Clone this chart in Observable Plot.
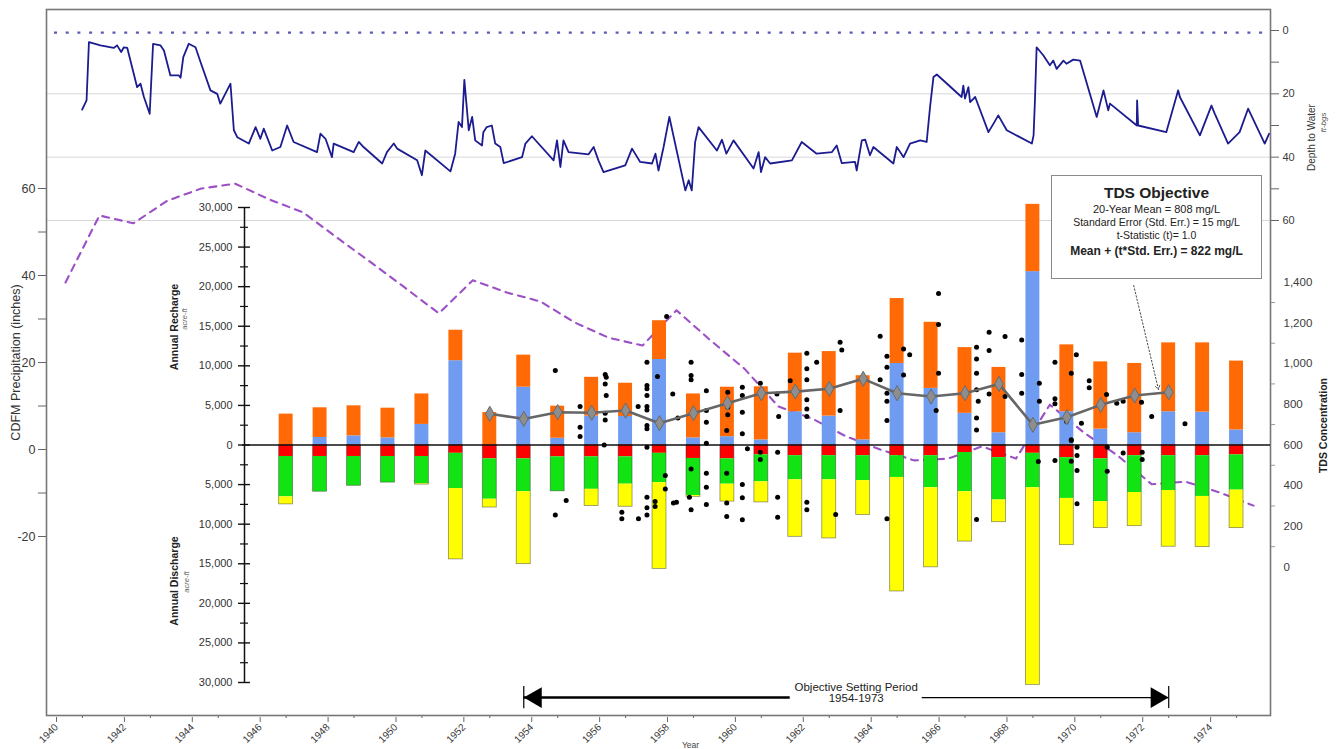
<!DOCTYPE html>
<html><head><meta charset="utf-8">
<script src="https://cdn.jsdelivr.net/npm/d3@7"></script>
<script src="https://cdn.jsdelivr.net/npm/@observablehq/plot@0.6"></script>
<style>
body{margin:0;background:#fff;font-family:"Liberation Sans",Arial,sans-serif;}
#chart{position:relative;width:1338px;height:749px;}
#chart svg{position:absolute;left:0;top:0;background:transparent;overflow:visible;}
#tdsbox{position:absolute;left:1051px;top:175px;width:211px;height:104px;border:1px solid #8a8a8a;background:#fff;text-align:center;color:#222;box-sizing:border-box;padding-top:8px;font-family:"Liberation Sans",Arial,sans-serif;}
#tdsbox div{white-space:nowrap;}
</style></head><body><div id="chart"></div>
<script>
// ---------- DATA ----------
const years = [1947,1948,1949,1950,1951,1952,1953,1954,1955,1956,1957,1958,1959,1960,1961,1962,1963,1964,1965,1966,1967,1968,1969,1970,1971,1972,1973,1974,1975];
// Annual recharge components (acre-ft)
const rechargeBlue   = [0,950,1150,900,2600,10650,0,7300,850,3650,3600,10800,900,1050,650,4200,3650,650,10300,7150,4000,1550,21900,4200,2000,1550,4200,4150,1900];
const rechargeOrange = [3900,3750,3800,3750,3850,3850,4100,4050,4050,4900,4200,4900,5550,6250,6700,7400,8150,8100,8200,8350,8300,8250,8500,8450,8500,8750,8700,8750,8700];
// Annual discharge components (acre-ft)
const dischargeRed    = [1450,1450,1450,1450,1450,1050,1750,1750,1500,1500,1500,1050,1700,1750,1250,1350,1350,1350,1350,1350,950,1600,1050,1600,1750,1350,1350,1350,1250];
const dischargeGreen  = [5100,4450,3700,3300,3450,4450,5100,4150,4350,4100,3450,3700,4700,3200,3400,3050,3050,3150,2750,4050,4950,5350,4350,5150,5400,4650,4400,5150,4450];
const dischargeYellow = [950,0,0,0,100,8950,1050,9150,0,2100,2850,10900,150,2200,2600,7200,7400,4350,14400,10050,6300,2800,24900,5900,3350,4250,7100,6400,4800];

// CDFM precipitation (inches), plotted at mid-year
const precipYears = [1940,1941,1942,1943,1944,1945,1946,1947,1948,1949,1950,1951,1952,1953,1954,1955,1956,1957,1958,1959,1960,1961,1962,1963,1964,1965,1966,1967,1968,1969,1970,1971,1972,1973,1974,1975];
const precipCDFM  = [38.4,53.8,52.0,57.2,60.0,61.1,57.5,54.5,48.7,43.0,37.2,31.3,38.9,36.1,34.0,29.2,25.7,23.9,32.0,25.1,18.6,9.9,7.1,3.0,0.0,-2.5,-2.1,0.7,-2.1,10.3,3.9,-1.4,-8.0,-7.4,-9.9,-12.9];

// Depth to water (ft-bgs)
const wlDate = [1940.99,1941.12,1941.19,1941.53,1941.92,1942.02,1942.14,1942.22,1942.32,1942.61,1942.71,1942.81,1942.98,1943.08,1943.30,1943.40,1943.59,1943.84,1943.89,1943.97,1944.13,1944.33,1944.48,1944.77,1944.97,1945.06,1945.36,1945.46,1945.56,1945.90,1946.10,1946.24,1946.34,1946.59,1946.83,1947.03,1947.22,1947.91,1948.01,1948.16,1948.35,1948.40,1948.99,1949.14,1949.28,1949.83,1949.97,1950.17,1950.27,1950.86,1951.00,1951.10,1951.84,1951.98,1952.08,1952.18,1952.25,1952.38,1952.48,1952.57,1952.77,1952.81,1952.91,1953.06,1953.16,1953.31,1953.41,1953.95,1954.05,1954.24,1954.88,1954.98,1955.08,1955.17,1955.32,1955.91,1956.06,1956.20,1956.35,1956.99,1957.19,1957.43,1957.78,1957.88,1957.97,1958.12,1958.29,1958.76,1958.86,1958.95,1959.05,1959.15,1959.69,1959.84,1959.97,1960.18,1960.77,1960.92,1960.99,1961.11,1961.26,1961.90,1962.19,1962.63,1963.08,1963.22,1963.37,1963.76,1963.81,1963.96,1964.06,1964.20,1964.30,1964.89,1964.99,1965.19,1965.38,1965.68,1965.87,1965.97,1966.07,1966.17,1966.90,1966.95,1967.00,1967.10,1967.15,1967.30,1967.69,1967.84,1967.98,1968.23,1968.97,1969.02,1969.06,1969.11,1969.31,1969.50,1969.60,1969.70,1969.90,1969.99,1970.19,1970.39,1970.88,1971.08,1971.22,1971.27,1972.06,1972.07,1972.10,1972.93,1973.28,1973.33,1973.92,1974.26,1974.36,1974.75,1975.09,1975.34,1975.83,1975.96];
const wlDepth = [25.0,22.1,3.7,4.7,5.5,4.7,6.8,5.3,5.5,17.9,16.8,21.0,26.3,4.2,4.7,6.3,14.2,14.2,14.9,8.4,4.2,5.3,10.0,18.9,20.0,23.1,16.8,31.5,33.7,35.7,30.5,34.2,31.0,37.9,36.8,30.0,35.2,38.4,32.6,34.2,40.0,35.7,38.4,35.2,36.8,42.0,38.4,35.7,37.3,41.0,45.7,37.9,44.5,38.9,28.9,30.5,15.6,31.5,27.3,34.7,36.3,32.1,30.5,30.0,35.7,36.8,41.9,40.0,35.7,33.4,41.0,34.7,43.1,34.7,38.4,39.1,36.8,41.0,44.7,42.6,37.3,41.5,42.0,38.9,44.2,36.8,27.3,50.5,47.3,50.5,35.2,30.5,37.9,34.5,38.9,34.7,43.6,38.4,44.7,40.0,42.0,41.0,35.2,38.9,38.4,36.3,41.9,41.5,44.2,34.7,34.5,39.4,36.8,42.0,36.8,40.0,35.7,34.7,35.2,24.2,14.7,13.9,21.0,17.4,21.5,17.9,22.6,21.0,32.1,29.4,26.8,31.5,35.7,33.1,22.1,5.3,7.9,11.0,9.5,12.1,9.5,10.5,9.2,9.5,27.3,18.9,25.2,23.1,30.0,22.1,30.0,32.1,18.9,21.0,33.1,23.7,26.3,35.7,32.1,24.7,35.7,32.6];
const groundSurface = [0.7];

// TDS (mg/L): annual means and individual samples
const tdsMeanYears = [1953,1954,1955,1956,1957,1958,1959,1960,1961,1962,1963,1964,1965,1966,1967,1968,1969,1970,1971,1972,1973];
const tdsMean      = [753,728,761,758,769,707,756,805,854,862,876,925,854,838,854,900,699,736,797,843,859];
const tdsSampleDate = [1954.93,1955.66,1955.66,1955.66,1955.25,1954.93,1956.40,1956.43,1956.40,1956.43,1956.40,1956.40,1956.37,1957.37,1957.63,1957.63,1957.63,1957.63,1957.63,1957.63,1957.63,1957.63,1957.63,1957.94,1958.21,1958.39,1958.54,1958.17,1958.17,1957.63,1957.87,1957.87,1957.63,1957.63,1957.38,1956.89,1956.89,1958.41,1958.50,1958.93,1958.93,1958.93,1959.38,1959.38,1959.38,1959.38,1958.93,1959.38,1959.38,1959.38,1958.88,1958.93,1960.01,1960.01,1960.01,1960.01,1959.98,1959.98,1959.98,1959.98,1960.44,1960.44,1960.44,1960.44,1960.59,1960.44,1960.44,1960.44,1960.97,1961.46,1961.51,1961.85,1962.34,1962.34,1962.34,1962.34,1962.34,1962.34,1962.63,1963.32,1963.37,1963.32,1964.50,1964.50,1964.70,1964.70,1964.70,1964.70,1964.70,1965.19,1965.37,1965.19,1966.22,1966.22,1966.22,1966.15,1967.34,1967.34,1967.34,1967.34,1967.39,1967.34,1967.34,1967.71,1967.71,1967.71,1968.18,1968.18,1968.67,1968.67,1968.67,1969.19,1969.19,1969.65,1969.65,1969.65,1970.28,1970.13,1969.99,1970.43,1970.13,1970.66,1970.66,1971.17,1971.47,1971.66,1972.20,1972.50,1973.48,1960.97,1960.97,1961.48,1961.48,1961.48,1962.34,1962.34,1963.19,1964.70,1967.34,1969.16,1969.65,1970.13,1970.13,1970.30,1970.30,1970.30,1970.30,1971.19,1971.19,1971.66,1972.22,1972.22];
const tdsSample     = [966,789,687,641,327,256,946,933,900,843,756,723,600,789,1006,892,876,843,789,772,695,679,589,936,1231,851,733,450,384,343,322,297,291,256,237,269,237,314,318,1006,941,920,867,769,712,608,482,461,392,307,343,281,859,802,785,748,671,461,314,248,884,843,761,655,581,405,340,232,903,851,740,916,1051,974,920,822,777,740,1006,1105,1067,769,1134,920,1036,982,854,815,720,1072,1043,944,1345,1192,952,769,1080,1023,952,871,815,733,674,1154,1064,851,1133,838,1116,946,854,903,815,1006,827,802,1043,952,716,707,625,916,881,848,805,815,810,740,704,564,528,564,343,245,318,281,258,237,233,518,523,622,520,589,548,474,311,589,471,561,564,528];

// Axis tick values
const evenYears = [1940,1942,1944,1946,1948,1950,1952,1954,1956,1958,1960,1962,1964,1966,1968,1970,1972,1974];
const oddYears  = [1941,1943,1945,1947,1949,1951,1953,1955,1957,1959,1961,1963,1965,1967,1969,1971,1973,1975];
const depthTicks = [0,20,40,60], depthMinor = [10,30,50];
const precipTicks = [-20,0,20,40,60], precipMinor = [-10,10,30,50];
const flowTicks = [-30000,-25000,-20000,-15000,-10000,-5000,0,5000,10000,15000,20000,25000,30000];
const flowMinor = [-27500,-22500,-17500,-12500,-7500,-2500,2500,7500,12500,17500,22500,27500];
const tdsTicks = [0,200,400,600,800,1000,1200,1400], tdsMinor = [100,300,500,700,900,1100,1300];

// Annotations
const periodYears = [1954, 1973];
const periodLabel = "Objective Setting Period\n1954-1973";
const periodGap = [1961.85, 1965.74];
const objArrow = [{x1: 1971.97, y1: 1384, x2: 1972.70, y2: 872}];

// ---------- LAYOUT ----------
const W = 1338, H = 749;
const frameL = 46, frameR = 1270, frameT = 9, frameB = 715;
const X0 = 1939.94, X1 = 1976;
const ppy = (frameR - frameL) / (X1 - X0);
const FONT = '"Liberation Sans", Arial, sans-serif';
const NARROW = '"Liberation Sans Narrow", "Liberation Sans", Arial, sans-serif';
const fmtComma = d3.format(",");
const common = {
  width: W, height: H,
  marginLeft: frameL, marginRight: W - frameR, marginTop: frameT, marginBottom: H - frameB,
  style: {background: "transparent", fontFamily: FONT, fontSize: "11px", color: "#3a3a3a", overflow: "visible"}
};
const chart = document.getElementById("chart");
const wl = wlDate.map((d, i) => ({date: d, depth: wlDepth[i]}));
const precip = precipYears.map((y, i) => ({year: y + 0.5, value: precipCDFM[i]}));
const tdsM = tdsMeanYears.map((y, i) => ({year: y, tds: tdsMean[i]}));
const tdsS = tdsSampleDate.map((d, i) => ({date: d, tds: tdsSample[i]}));

// stacked segments
function seg(vals, base, sign) {
  return years.map((y, i) => ({year: y, y1: sign * base[i], y2: sign * (base[i] + vals[i])}));
}
const zeros = years.map(() => 0);
const sumArr = (a, b) => a.map((v, i) => v + b[i]);
const segBlue = seg(rechargeBlue, zeros, 1);
const segOrange = seg(rechargeOrange, rechargeBlue, 1);
const segRed = seg(dischargeRed, zeros, -1);
const segGreen = seg(dischargeGreen, dischargeRed, -1);
const segYellow = seg(dischargeYellow, sumArr(dischargeRed, dischargeGreen), -1);
const segDischargeAll = seg(sumArr(sumArr(dischargeRed, dischargeGreen), dischargeYellow), zeros, -1);

// ---------- LAYER 1: depth to water, frame, x axis ----------
chart.append(Plot.plot({
  ...common,
  x: {domain: [X0, X1]},
  y: {domain: [0, 60], range: [30, 220]},
  marks: [
    Plot.ruleY(depthTicks.slice(1), {stroke: "#d8d8d8", strokeWidth: 1}),
    Plot.ruleY(groundSurface, {stroke: "#5a5ab4", strokeWidth: 2.2, strokeDasharray: "3,8.7", insetLeft: 8}),
    Plot.line(wl, {x: "date", y: "depth", stroke: "#1c1c90", strokeWidth: 1.8}),
    Plot.axisY({anchor: "right", ticks: depthTicks, tickSize: 8, tickPadding: 4, label: null, fontSize: 11, stroke: "#666"}),
    Plot.axisY({anchor: "right", ticks: depthMinor, tickSize: 8, tickFormat: () => "", label: null, stroke: "#666"}),
    Plot.axisX({ticks: evenYears, tickSize: 5, tickPadding: 3, tickRotate: -45, tickFormat: d => String(d), label: null, fontSize: 10, dx: 8, dy: 2, stroke: "#666"}),
    Plot.axisX({ticks: oddYears, tickSize: 3, tickFormat: () => "", label: null, stroke: "#666"}),
    Plot.frame({stroke: "#777", strokeWidth: 1.6}),
    Plot.text(["Depth to Water"], {frameAnchor: "top-right", textAnchor: "middle", lineAnchor: "middle", rotate: -90, dx: 41, dy: 128, fontSize: 10, fill: "#333"}),
    Plot.text(["ft-bgs"], {frameAnchor: "top-right", textAnchor: "middle", lineAnchor: "middle", rotate: -90, dx: 53, dy: 113, fontSize: 8, fontStyle: "italic", fill: "#555"}),
    Plot.text(["Year"], {frameAnchor: "bottom", textAnchor: "middle", lineAnchor: "middle", dx: 32, dy: 30, fontSize: 8.5, fill: "#444"})
  ]
}));

// ---------- LAYER 2: precipitation ----------
chart.append(Plot.plot({
  ...common,
  x: {domain: [X0, X1], axis: null},
  y: {domain: [-20, 60], range: [536, 188]},
  marks: [
    Plot.line(precip, {x: "year", y: "value", stroke: "#9c50c6", strokeWidth: 2.1, strokeDasharray: "7,6"}),
    Plot.axisY({anchor: "left", ticks: precipTicks, tickSize: 8, tickPadding: 3, tickFormat: d => String(d), label: null, fontSize: 12.5, stroke: "#666"}),
    Plot.axisY({anchor: "left", ticks: precipMinor, tickSize: 8, tickFormat: () => "", label: null, stroke: "#666"}),
    Plot.text(["CDFM Precipitation (inches)"], {frameAnchor: "left", textAnchor: "middle", lineAnchor: "middle", rotate: -90, dx: -31, dy: 0, fontSize: 12.5, fill: "#333"})
  ]
}));

// ---------- LAYER 3: recharge / discharge bars ----------
const barL = 242;
const barX = {x1: d => d.year - 0.5, x2: d => d.year + 0.5, y1: "y1", y2: "y2", insetLeft: 10, insetRight: 10};
const periodY = -31900;
chart.append(Plot.plot({
  ...common,
  marginLeft: barL,
  x: {domain: [X0 + (barL - frameL) / ppy, X1], axis: null},
  y: {domain: [-30000, 30000], range: [682, 207], axis: null},
  marks: [
    Plot.rectY(segBlue, {...barX, fill: "#6f9cf0"}),
    Plot.rectY(segOrange, {...barX, fill: "#ff6a07"}),
    Plot.rectY(segRed, {...barX, fill: "#ff0000"}),
    Plot.rectY(segGreen, {...barX, fill: "#12e312"}),
    Plot.rectY(segYellow, {...barX, fill: "#ffff00"}),
    Plot.rectY(segDischargeAll, {...barX, fill: "none", stroke: "#333", strokeWidth: 0.8, strokeOpacity: 0.55}),
    Plot.ruleY([0], {stroke: "#111", strokeWidth: 1.5}),
    // objective setting period arrow
    Plot.ruleX(periodYears, {y1: periodY + 1400, y2: periodY - 1400, stroke: "#222", strokeWidth: 1.4}),
    Plot.ruleY([{a: periodYears[0], b: periodGap[0]}], {x1: "a", x2: "b", y: () => periodY, stroke: "#000", strokeWidth: 2.6}),
    Plot.ruleY([{a: periodGap[1], b: periodYears[1]}], {x1: "a", x2: "b", y: () => periodY, stroke: "#000", strokeWidth: 1.3}),
    Plot.dot([periodYears[0]], {x: d => d, y: () => periodY, symbol: "triangle", r: 7.7, rotate: -90, fill: "#000", dx: 12}),
    Plot.dot([periodYears[1]], {x: d => d, y: () => periodY, symbol: "triangle", r: 7.7, rotate: 90, fill: "#000", dx: -12}),
    Plot.text([periodLabel], {x: () => (periodGap[0] + periodGap[1]) / 2, y: () => periodY, dy: -5, lineAnchor: "middle", lineHeight: 0.95, fontSize: 11.5, fill: "#222"})
  ]
}));

// ---------- LAYER 4: middle acre-ft axis ----------
const axL = 238, axR = 250;
chart.append(Plot.plot({
  width: W, height: H,
  marginLeft: axL, marginRight: W - axR, marginTop: 207, marginBottom: H - 682,
  style: {background: "transparent", fontFamily: NARROW, fontSize: "11px", color: "#333", overflow: "visible"},
  x: {domain: [-1, 1], axis: null},
  y: {domain: [-30000, 30000], axis: null},
  marks: [
    Plot.ruleX([0], {stroke: "#111", strokeWidth: 1.5}),
    Plot.ruleY(flowTicks, {stroke: "#111", strokeWidth: 1.4}),
    Plot.ruleY(flowMinor, {stroke: "#111", strokeWidth: 1.2, insetLeft: 2, insetRight: 2}),
    Plot.axisY({anchor: "left", ticks: flowTicks, tickSize: 0, tickPadding: 6, tickFormat: d => fmtComma(Math.abs(d)), label: null, fontSize: 11}),
    Plot.text(["Annual Recharge"], {frameAnchor: "left", textAnchor: "middle", lineAnchor: "middle", rotate: -90, dx: -64, dy: -118, fontSize: 10.5, fontWeight: "bold", fontFamily: FONT, fill: "#222"}),
    Plot.text(["acre-ft"], {frameAnchor: "left", textAnchor: "middle", lineAnchor: "middle", rotate: -90, dx: -54, dy: -126, fontSize: 7.5, fontStyle: "italic", fontFamily: FONT, fill: "#666"}),
    Plot.text(["Annual Discharge"], {frameAnchor: "left", textAnchor: "middle", lineAnchor: "middle", rotate: -90, dx: -64, dy: 136, fontSize: 10.5, fontWeight: "bold", fontFamily: FONT, fill: "#222"}),
    Plot.text(["acre-ft"], {frameAnchor: "left", textAnchor: "middle", lineAnchor: "middle", rotate: -90, dx: -52, dy: 137, fontSize: 7.5, fontStyle: "italic", fontFamily: FONT, fill: "#666"})
  ]
}));

// ---------- LAYER 5: TDS ----------
chart.append(Plot.plot({
  ...common,
  x: {domain: [X0, X1], axis: null},
  y: {domain: [0, 1400], range: [566.5, 281.7]},
  marks: [
    Plot.dot(tdsS, {x: "date", y: "tds", r: 2.5, fill: "#000"}),
    Plot.line(tdsM, {x: "year", y: "tds", stroke: "#666", strokeWidth: 2.6}),
    Plot.dot(tdsM, {x: "year", y: "tds", symbol: "diamond", r: 4.6, fill: "#8e8e8e", stroke: "#6a6a6a", strokeWidth: 1}),
    Plot.axisY({anchor: "right", ticks: tdsTicks, tickSize: 0, tickPadding: 13, tickFormat: d => fmtComma(d), label: null, fontSize: 11.5}),
    Plot.axisY({anchor: "right", ticks: tdsMinor, tickSize: 4, tickFormat: () => "", label: null, stroke: "#999"}),
    Plot.text(["TDS Concentration"], {frameAnchor: "right", textAnchor: "middle", lineAnchor: "middle", rotate: -90, dx: 53, dy: 63, fontSize: 10.5, fontWeight: "bold", fill: "#222"}),
    Plot.arrow(objArrow, {x1: "x1", y1: "y1", x2: "x2", y2: "y2", stroke: "#333", strokeWidth: 0.9, strokeDasharray: "1.5,2", headLength: 7})
  ]
}));

// ---------- TDS objective box ----------
const box = document.createElement("div");
box.id = "tdsbox";
box.innerHTML =
  '<div style="font-size:15.5px;font-weight:bold;line-height:18px;">TDS Objective</div>' +
  '<div style="font-size:11px;line-height:13px;margin-top:1px;">20-Year Mean = 808 mg/L</div>' +
  '<div style="font-size:10.5px;line-height:12.5px;">Standard Error (Std. Err.) = 15 mg/L</div>' +
  '<div style="font-size:10.5px;line-height:12.5px;">t-Statistic (t)= 1.0</div>' +
  '<div style="font-size:12px;font-weight:bold;line-height:16px;margin-top:2px;">Mean + (t*Std. Err.) = 822 mg/L</div>';
chart.append(box);
</script></body></html>
